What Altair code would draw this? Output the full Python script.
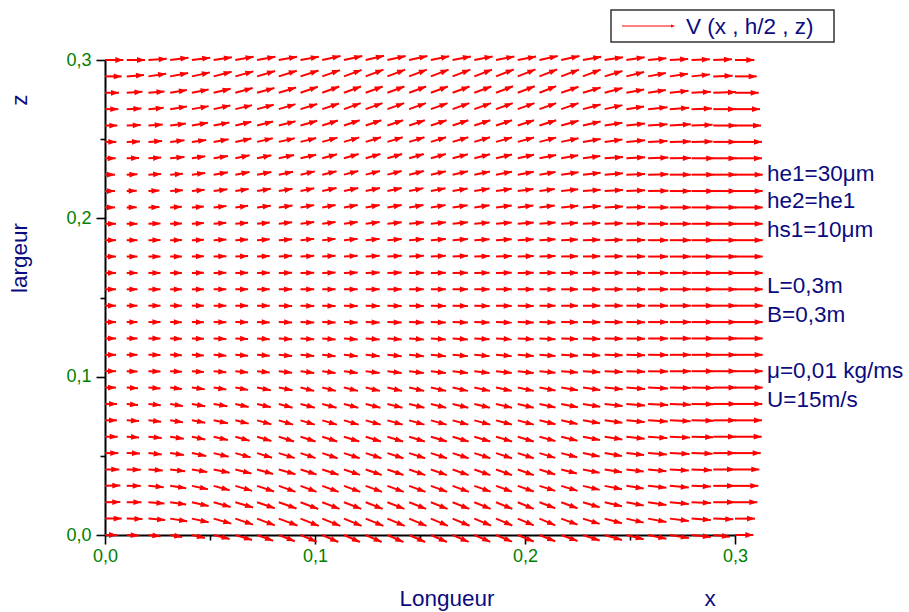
import math
import altair as alt
import numpy as np
import pandas as pd

# ---------------- data ----------------
N = 30
x_grid = np.linspace(0.0, 0.3, N)      # Longueur x (m), 30 columns
z_grid = np.linspace(0.0, 0.3, N)      # largeur z (m), 30 rows

# horizontal arrow component (vector units), rows listed from z=0.3 (top) down to z=0
u_rows = [
    [18.3,18.3,18.3,18.3,18.3,18.3,18.3,18.3,18.3,18.3, 18.3,18.3,18.3,18.3,18.3,18.3,18.3,18.3,18.3,18.3, 18.3,18.3,18.3,18.3,18.3,18.3,18.3,18.3,18.7,19.3],
    [16.7,17.3,17.7,18.0,18.0,18.0,18.0,18.0,18.0,18.0, 17.7,17.7,17.7,17.7,17.7,17.7,17.7,17.7,17.7,17.7, 17.7,17.7,17.7,17.7,17.7,17.7,18.0,18.3,19.3,21.7],
    [14.0,15.7,16.0,16.7,16.7,17.0,17.3,17.3,17.3,17.3, 17.0,17.0,17.0,17.0,17.0,17.0,17.0,17.0,17.0,17.0, 16.7,17.3,17.7,17.7,17.7,17.7,18.7,19.3,22.7,23.7],
    [13.3,14.7,15.3,16.7,16.7,16.7,16.7,16.7,16.7,16.7, 16.7,16.7,16.7,16.7,16.7,16.7,16.7,16.7,16.7,16.7, 16.7,17.3,17.7,17.7,17.7,19.3,19.3,20.3,22.7,25.0],
    [12.3,14.0,14.3,15.7,16.0,15.7,16.0,16.0,16.7,16.7, 15.7,15.7,15.7,15.7,15.7,15.7,15.7,16.0,16.0,16.3, 16.7,17.3,17.7,17.7,18.7,19.3,21.0,21.0,23.3,26.0],
    [11.3,13.3,13.7,14.3,14.3,15.0,16.0,15.7,16.0,15.7, 15.3,15.3,15.3,15.3,15.3,15.3,15.7,15.7,16.0,16.3, 16.7,17.3,17.7,17.7,18.7,19.3,21.0,21.0,23.3,27.0],
    [10.7,12.3,12.7,14.3,13.3,14.3,14.3,14.3,15.3,15.7, 14.7,14.7,14.7,14.7,14.7,15.0,15.3,15.7,16.0,16.3, 16.7,17.0,17.3,18.3,18.7,20.3,21.0,22.7,23.3,27.0],
    [10.0,10.7,12.7,12.7,13.3,14.3,14.3,14.3,14.3,14.3, 14.3,14.3,14.3,14.3,14.7,15.0,15.3,15.7,16.0,16.0, 16.0,17.3,17.7,18.3,18.7,20.3,21.0,22.7,23.3,27.7],
    [10.0,10.0,11.0,12.7,12.7,13.7,13.3,13.7,13.7,13.7, 14.3,14.3,14.3,14.3,14.3,14.7,15.0,15.3,15.7,15.7, 15.3,17.0,17.7,18.3,18.7,20.3,21.0,22.7,23.3,27.7],
    [10.0,10.0,11.0,11.7,12.0,12.7,12.7,13.7,13.7,13.7, 13.3,13.7,14.0,14.3,14.3,14.7,15.0,15.3,15.7,15.7, 15.3,17.0,17.7,18.3,18.7,20.3,21.0,22.7,23.3,27.7],
    [11.0,10.7,12.0,11.7,12.0,12.7,12.7,12.7,13.3,13.7, 13.3,13.7,14.0,14.3,14.7,15.0,15.3,15.3,15.7,16.0, 16.0,16.7,17.3,18.0,18.7,20.0,21.0,22.3,23.3,27.7],
    [11.0,10.7,12.0,11.7,12.0,12.7,12.7,12.7,13.3,13.7, 13.3,13.7,14.0,14.3,14.7,15.0,15.3,15.3,15.7,16.0, 16.0,16.7,17.3,18.0,18.7,20.0,21.0,22.3,23.3,27.7],
    [11.0,10.7,12.0,11.7,12.0,12.7,12.7,12.7,13.3,13.7, 13.3,13.7,14.0,14.3,14.7,15.0,15.3,15.3,15.7,16.0, 16.0,16.7,17.3,18.0,18.7,20.0,21.0,22.3,23.3,27.7],
    [11.0,10.7,12.0,11.7,12.0,12.7,12.7,12.7,13.3,13.7, 13.3,13.7,14.0,14.3,14.7,15.0,15.3,15.3,15.7,16.0, 16.0,16.7,17.3,18.0,18.7,20.0,21.0,22.3,23.3,27.7],
    [11.0,10.7,12.0,11.7,12.0,12.7,12.7,12.7,13.3,13.7, 13.3,13.7,14.0,14.3,14.7,15.0,15.3,15.3,15.7,16.0, 16.0,16.7,17.3,18.0,18.7,20.0,21.0,22.3,23.3,27.7],
    [11.0,10.7,12.0,11.7,12.0,12.7,12.7,12.7,13.3,13.7, 13.3,13.7,14.0,14.3,14.7,15.0,15.3,15.3,15.7,16.0, 16.0,16.7,17.3,18.0,18.7,20.0,21.0,22.3,23.3,27.7],
    [11.0,10.7,12.0,11.7,12.0,12.7,12.7,12.7,13.3,13.7, 13.3,13.7,14.0,14.3,14.7,15.0,15.3,15.3,15.7,16.0, 16.0,16.7,17.3,18.0,18.7,20.0,21.0,22.3,23.3,27.7],
    [11.0,10.7,12.0,11.7,12.0,12.7,12.7,12.7,13.3,13.7, 13.3,13.7,14.0,14.3,14.7,15.0,15.3,15.3,15.7,16.0, 16.0,16.7,17.3,18.0,18.7,20.0,21.0,22.3,23.3,27.7],
    [11.0,10.7,12.0,11.7,12.0,12.7,12.7,12.7,13.3,13.7, 13.3,13.7,14.0,14.3,14.7,15.0,15.3,15.3,15.7,16.0, 16.0,16.7,17.3,18.0,18.7,20.0,21.0,22.3,23.3,27.7],
    [11.0,10.7,12.0,11.7,12.0,12.7,12.7,12.7,13.3,13.7, 13.3,13.7,14.0,14.3,14.7,15.0,15.3,15.3,15.7,16.0, 16.0,16.7,17.3,18.0,18.7,20.0,21.0,22.3,23.3,27.7],
    [11.0,11.3,12.0,11.7,12.7,12.7,12.7,13.7,13.7,13.7, 13.7,14.0,14.3,14.7,15.0,15.3,15.3,15.7,15.7,16.0, 16.0,16.7,17.3,18.0,18.7,20.0,21.0,22.3,23.3,27.7],
    [12.0,11.3,12.3,12.7,13.3,13.7,13.3,13.7,13.7,14.3, 14.3,14.3,14.7,15.0,15.3,15.3,15.7,15.7,16.0,16.0, 16.0,16.7,17.3,18.0,18.7,20.0,21.0,22.3,23.3,27.3],
    [12.0,12.3,12.7,12.7,13.3,14.3,13.3,14.3,14.3,14.3, 14.7,14.7,15.0,15.3,15.3,15.7,15.7,16.0,16.0,16.0, 16.0,16.3,17.0,17.7,18.3,19.7,20.7,22.0,23.0,27.0],
    [12.7,12.3,13.3,13.7,13.3,14.3,14.3,14.3,15.3,15.0, 15.0,15.3,15.3,15.7,15.7,16.0,16.0,16.0,16.0,16.0, 16.0,16.3,17.0,17.7,18.3,19.3,20.3,21.7,22.7,26.7],
    [13.3,13.3,13.3,13.7,14.3,15.0,15.3,15.0,16.0,15.0, 15.3,15.7,15.7,16.0,16.0,16.0,16.0,16.0,16.0,16.0, 15.7,16.0,16.7,17.3,17.7,18.7,19.7,21.0,22.3,25.7],
    [14.3,14.0,14.3,15.0,15.3,16.0,16.0,16.0,16.7,16.0, 16.3,16.0,16.0,16.0,16.0,16.0,16.0,16.0,16.0,16.0, 15.7,15.7,16.7,17.3,17.3,18.3,19.0,20.3,21.7,24.3],
    [15.3,14.0,15.3,16.0,16.0,16.0,16.7,17.0,16.7,16.0, 16.3,16.3,16.3,16.3,16.3,16.3,16.3,16.3,16.0,16.0, 15.7,16.3,16.7,17.3,17.3,18.3,19.0,19.3,21.7,23.3],
    [15.3,14.7,16.0,16.0,16.7,17.0,17.7,17.7,17.7,17.7, 17.3,17.3,17.0,17.0,17.0,16.7,16.7,16.3,16.3,16.0, 15.7,16.3,16.7,17.3,17.3,18.3,19.0,19.3,21.7,22.3],
    [16.7,15.7,16.7,17.0,16.7,17.7,17.7,17.7,18.7,18.3, 18.0,17.7,17.7,17.3,17.3,17.0,17.0,16.7,16.3,16.0, 15.7,16.3,16.7,17.3,17.3,18.3,19.0,19.3,20.0,20.0],
    [12.0,12.0,12.0,12.0,13.0,16.0,16.7,16.0,16.0,16.0, 16.0,16.0,16.0,16.0,16.0,16.0,16.0,16.0,16.0,16.0, 15.7,16.3,16.7,17.3,17.3,18.3,19.0,19.3,16.7,18.3],
]

# vertical arrow component (vector units, positive = up), rows from z=0.3 (top) down to z=0
w_rows = [
    [0,0,1.3,2.3,2.3,2.7,3.3,3.3,3.3,3.3, 4.0,4.0,4.2,4.0,4.0,3.8,3.6,3.6,3.5,3.4, 4.0,4.0,3.3,2.7,2.7,1.7,1.0,0.7,0.7,0],
    [0,1.3,2.7,3.3,4.0,4.7,5.0,5.3,5.7,5.9, 6.3,6.5,6.7,6.7,6.7,6.7,6.7,6.8,6.9,7.0, 7.0,6.7,6.7,5.3,4.3,3.3,2.7,2.0,0.7,0],
    [0,1.0,1.3,2.7,3.3,4.0,4.7,4.7,5.3,6.0, 6.3,6.3,6.3,6.3,6.3,6.3,6.3,6.3,6.5,6.5, 6.7,6.0,5.3,4.7,3.3,2.7,2.0,1.0,0.7,0],
    [0,0.7,1.3,2.7,3.0,3.7,4.0,4.3,5.0,5.2, 5.7,6.0,6.0,6.0,6.0,6.0,6.0,6.0,6.0,6.0, 6.0,6.0,4.7,4.0,2.7,2.0,1.3,0.7,0,0],
    [0,0.5,1.0,2.0,2.7,3.0,3.7,4.0,4.3,4.7, 5.0,5.2,5.3,5.3,5.3,5.3,5.3,5.3,5.3,5.3, 5.3,4.7,4.0,2.7,2.0,1.3,1.3,0.7,0,0],
    [0,0.3,1.0,1.7,2.0,2.7,3.3,3.7,3.7,3.9, 4.3,4.5,4.7,4.7,4.7,4.7,4.7,4.6,4.5,4.4, 4.3,3.7,3.0,2.3,1.7,1.0,0.5,0.3,0,0],
    [0,0.3,0.7,1.3,2.0,2.3,3.0,3.0,3.3,3.5, 4.0,4.2,4.3,4.3,4.3,4.2,4.1,4.0,3.8,3.6, 3.3,3.0,2.3,1.3,1.0,0.7,0.3,0,0,0],
    [0,0.3,0.7,1.0,1.7,2.3,2.7,2.7,3.0,3.3, 3.5,3.7,3.7,3.7,3.6,3.5,3.4,3.2,3.0,2.8, 2.7,2.3,2.0,1.3,0.7,0.3,0,0,0,0],
    [0,0.3,0.5,0.8,1.3,1.7,2.0,2.3,2.3,2.7, 3.0,3.0,3.0,3.0,2.9,2.8,2.6,2.5,2.3,2.1, 2.0,1.7,1.3,1.0,0.7,0.3,0,0,0,0],
    [0,0.2,0.4,0.7,1.0,1.3,1.7,1.7,2.0,2.3, 2.5,2.5,2.5,2.5,2.4,2.3,2.2,2.1,2.0,2.0, 2.0,1.7,1.3,1.0,0.5,0,0,0,0,0],
    [0,0,0.2,0.3,0.7,1.0,1.0,1.3,1.5,1.7, 1.7,1.7,1.7,1.6,1.6,1.5,1.5,1.4,1.4,1.3, 1.2,1.0,0.7,0.5,0.3,0,0,0,0,0],
    [0,0,0.1,0.2,0.5,0.7,0.7,0.9,1.0,1.3, 1.3,1.3,1.3,1.2,1.2,1.1,1.1,1.0,1.0,1.0, 0.9,0.7,0.5,0.3,0.2,0,0,0,0,0],
    [0,0,0,0.1,0.3,0.4,0.5,0.6,0.7,0.7, 0.8,0.8,0.8,0.8,0.7,0.7,0.7,0.6,0.6,0.6, 0.5,0.4,0.3,0.2,0.1,0,0,0,0,0],
    [0,0,0,0,0.1,0.2,0.2,0.3,0.3,0.3, 0.4,0.4,0.4,0.4,0.3,0.3,0.3,0.3,0.3,0.3, 0.2,0.2,0.1,0.1,0,0,0,0,0,0],
    [0,0,0,0,0,0.1,0.1,0.1,0.1,0.1, 0.1,0.1,0.1,0.1,0.1,0.1,0.1,0.1,0.1,0.1, 0.1,0,0,0,0,0,0,0,0,0],
    [0,0,0,0,0,-0.1,-0.1,-0.1,-0.2,-0.2, -0.2,-0.2,-0.2,-0.2,-0.2,-0.2,-0.2,-0.2,-0.2,-0.2, -0.1,-0.1,-0.1,0,0,0,0,0,0,0],
    [0,0,0,-0.1,-0.2,-0.3,-0.3,-0.4,-0.4,-0.5, -0.5,-0.5,-0.5,-0.5,-0.5,-0.5,-0.5,-0.5,-0.5,-0.5, -0.4,-0.3,-0.3,-0.2,-0.1,0,0,0,0,0],
    [0,0,-0.1,-0.2,-0.4,-0.5,-0.6,-0.7,-0.8,-0.8, -1.0,-1.0,-1.0,-1.0,-1.0,-1.0,-1.0,-0.9,-0.9,-0.9, -0.8,-0.6,-0.5,-0.4,-0.2,-0.1,0,0,0,0],
    [0,0,-0.2,-0.4,-0.6,-0.8,-0.9,-1.0,-1.1,-1.2, -1.4,-1.4,-1.4,-1.4,-1.4,-1.4,-1.3,-1.3,-1.3,-1.2, -1.1,-0.9,-0.7,-0.5,-0.3,-0.1,0,0,0,0],
    [0,-0.2,-0.4,-0.6,-0.9,-1.1,-1.3,-1.4,-1.6,-1.8, -1.8,-1.8,-1.8,-1.8,-1.8,-1.8,-1.7,-1.7,-1.7,-1.7, -1.5,-1.3,-1.0,-0.8,-0.5,-0.3,-0.1,0,0,0],
    [0,-0.7,-1.0,-1.3,-1.7,-2.0,-2.3,-2.7,-2.7,-3.3, -3.3,-3.3,-3.3,-3.3,-3.3,-3.3,-3.3,-3.3,-3.3,-3.3, -3.0,-2.7,-2.3,-1.7,-1.3,-1.0,-0.5,-0.3,0,0],
    [0,-1.0,-1.3,-2.0,-2.3,-2.3,-3.0,-3.3,-3.7,-3.7, -3.8,-3.8,-3.8,-3.8,-3.8,-3.8,-3.8,-3.8,-3.8,-3.8, -3.5,-3.2,-2.7,-2.0,-1.5,-1.0,-0.7,-0.3,0,0],
    [0,-0.7,-1.3,-2.0,-2.3,-3.0,-3.3,-4.0,-4.3,-4.3, -4.3,-4.3,-4.3,-4.3,-4.3,-4.3,-4.3,-4.3,-4.3,-4.3, -4.0,-3.6,-3.0,-2.3,-1.7,-1.2,-0.8,-0.4,0,0],
    [0,-0.7,-1.3,-2.0,-2.7,-3.3,-4.0,-4.3,-4.7,-4.7, -4.7,-4.8,-4.8,-4.8,-4.8,-4.8,-4.8,-4.8,-4.7,-4.7, -4.4,-4.0,-3.3,-2.7,-2.0,-1.4,-0.9,-0.5,0,0],
    [0,-0.3,-1.3,-2.0,-3.0,-3.7,-4.3,-4.7,-5.0,-5.0, -5.2,-5.2,-5.2,-5.2,-5.2,-5.2,-5.2,-5.2,-5.2,-5.2, -4.8,-4.2,-3.5,-2.8,-2.0,-1.5,-1.0,-0.6,0,0],
    [0,-0.3,-1.0,-1.7,-2.5,-3.3,-4.0,-4.5,-4.8,-5.0, -5.2,-5.4,-5.5,-5.5,-5.6,-5.6,-5.6,-5.7,-5.7,-5.7, -5.0,-4.0,-3.3,-2.7,-2.0,-1.7,-1.0,-0.7,0,0],
    [0.3,0,-1.3,-2.3,-3.3,-4.3,-5.0,-5.7,-6.0,-6.0, -6.0,-6.0,-6.0,-6.0,-6.0,-6.0,-6.0,-5.8,-5.8,-5.7, -5.0,-5.0,-4.0,-3.3,-2.7,-2.0,-1.7,-0.7,0,0],
    [0.2,0,-1.3,-2.3,-3.7,-4.7,-5.3,-6.0,-6.3,-6.7, -6.7,-6.7,-6.7,-6.7,-6.7,-6.7,-6.7,-6.7,-6.7,-6.7, -6.0,-6.0,-5.0,-4.0,-3.3,-2.7,-1.7,-0.7,0,0],
    [0.2,-0.3,-1.3,-2.7,-3.7,-5.0,-6.0,-6.7,-7.0,-7.3, -7.3,-7.3,-7.3,-7.3,-7.3,-7.2,-7.1,-7.0,-6.9,-6.7, -6.7,-6.0,-5.3,-4.7,-4.0,-3.3,-2.3,-1.3,-0.7,0],
    [0,-0.5,-1.3,-2.0,-3.0,-4.0,-5.0,-5.7,-6.3,-6.7, -7.0,-7.0,-7.0,-7.0,-7.0,-7.0,-6.9,-6.8,-6.7,-6.5, -6.3,-6.0,-5.5,-5.0,-4.3,-3.7,-3.0,-2.0,-1.7,0],
]

param_lines = ["he1=30\u03bcm", "he2=he1", "hs1=10\u03bcm", "L=0,3m", "B=0,3m", "\u03bc=0,01 kg/ms", "U=15m/s"]
legend_label = "V (x , h/2 , z)"
tick_values = [0.0, 0.05, 0.1, 0.15, 0.2, 0.25, 0.3]

# ---------------- layout ----------------
W, H = 630, 475
PAD = {"left": 105, "top": 60, "right": 909 - 105 - W, "bottom": 612 - 60 - H}
px_per_x = W / 0.3
px_per_z = H / 0.3
NAVY = "#0b0b80"
GREEN = "#008000"
RED = "#ff0000"
FONT = "Liberation Sans"

recs = []
for r in range(N):
    j = N - 1 - r
    for i in range(N):
        u = u_rows[r][i]
        w = w_rows[r][i]
        x0 = float(x_grid[i])
        z0 = float(z_grid[j])
        recs.append({
            "x": x0, "z": z0,
            "x2": x0 + u / px_per_x,
            "z2": z0 + w / px_per_z,
            "angle": (-math.degrees(math.atan2(w, u))) % 360,
        })
df = pd.DataFrame(recs)

is_major = "abs(datum.value*10 - round(datum.value*10)) < 0.001"
label_expr = f"{is_major} ? replace(format(datum.value, '.1f'), '.', ',') : ''"

def make_axis(orient):
    return alt.Axis(
        values=tick_values, labelExpr=label_expr, title=None, grid=False,
        orient=orient, domainColor="black", domainWidth=2, tickColor="black",
        tickWidth=1.6, tickSize={"condition": {"test": is_major, "value": 9}, "value": 5},
        labelColor=GREEN, labelFont=FONT, labelFontSize=18,
        labelPadding=3 if orient == "bottom" else 5, labelFlush=False, labelOverlap=False,
    )

xs = alt.Scale(domain=[0, 0.3], nice=False, zero=False)
zs = alt.Scale(domain=[0, 0.3], nice=False, zero=False)

base = alt.Chart(df)
shafts = base.mark_rule(color=RED, strokeWidth=2).encode(
    x=alt.X("x:Q", scale=xs, axis=make_axis("bottom")),
    y=alt.Y("z:Q", scale=zs, axis=make_axis("left")),
    x2="x2:Q", y2="z2:Q",
)
heads = base.mark_point(
    shape="M0,0L-1,-0.36L-1,0.36Z", filled=True, color=RED, opacity=1, size=256, strokeWidth=0
).encode(
    x=alt.X("x2:Q", scale=xs, axis=make_axis("bottom")),
    y=alt.Y("z2:Q", scale=zs, axis=make_axis("left")),
    angle=alt.Angle("angle:Q", scale=None),
)

one = alt.Chart(pd.DataFrame({"k": [0]}))

def label(txt, x, y, size=22.5, angle=0, align="left", baseline="alphabetic"):
    kw = dict(fontSize=size, font=FONT, color=NAVY, align=align, baseline=baseline)
    if angle:
        kw["angle"] = angle
    return one.mark_text(**kw).encode(x=alt.value(x), y=alt.value(y), text=alt.value(txt))

param_y = [121, 148, 177, 233, 262, 318, 347]
params = [label(t, 662, y) for t, y in zip(param_lines, param_y)]

titles = [
    label("Longueur", 342, 546, align="center"),
    label("x", 605, 546, align="center"),
    label("largeur", -85, 198, angle=270, align="center", baseline="middle"),
    label("z", -85, 40, angle=270, align="center", baseline="middle"),
]

legend_box = one.mark_rect(fill="white", stroke="#333333", strokeWidth=1.5).encode(
    x=alt.value(506), x2=alt.value(729), y=alt.value(-50), y2=alt.value(-18)
)
legend_line = one.mark_rule(color=RED, strokeWidth=1).encode(
    x=alt.value(517), x2=alt.value(568), y=alt.value(-34), y2=alt.value(-34)
)
legend_head = one.mark_point(
    shape="M0,0L-1,-0.35L-1,0.35Z", filled=True, color=RED, opacity=1, size=64, strokeWidth=0
).encode(x=alt.value(570), y=alt.value(-34))
legend_text = label(legend_label, 581, -26, size=22.5)

chart = alt.layer(
    shafts, heads, *params, *titles, legend_box, legend_line, legend_head, legend_text
).properties(
    width=W, height=H, padding=PAD, autosize=alt.AutoSizeParams(type="none"),
    background="white",
).configure_view(stroke=None)

chart.save("out.html", embed_options={"renderer": "svg", "actions": False})
